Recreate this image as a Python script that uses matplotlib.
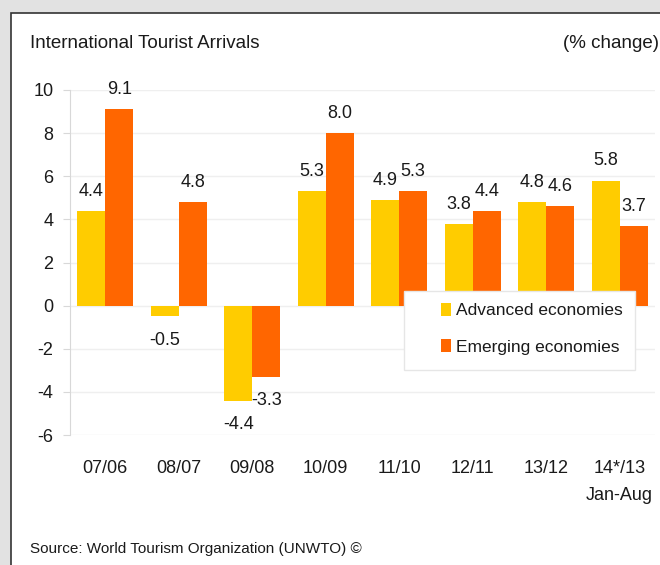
import numpy as np
import matplotlib
matplotlib.use("Agg")
import matplotlib.pyplot as plt
import matplotlib.patches as mpatches

# ── Data ───────────────────────────────────────────────────────────────────────

periods   = ["07/06", "08/07", "09/08", "10/09", "11/10", "12/11", "13/12", "14*/13"]
advanced  = [4.4, -0.5, -4.4, 5.3, 4.9, 3.8, 4.8, 5.8]
emerging  = [9.1, 4.8, -3.3, 8.0, 5.3, 4.4, 4.6, 3.7]
y_ticks   = [-6, -4, -2, 0, 2, 4, 6, 8, 10]

# ── Style ──────────────────────────────────────────────────────────────────────

YELLOW = "#FFCC00"
ORANGE = "#FF6600"
TEXT   = "#1a1a1a"
GRID   = "#efefef"

plt.rcParams["font.family"] = ["Liberation Sans Narrow", "Liberation Sans", "DejaVu Sans"]

W, H = 660, 565
fig = plt.figure(figsize=(W / 100, H / 100), dpi=100)
fig.patch.set_facecolor("#e2e2e2")

# white panel with dark border (cut off at right/bottom)
fig.patches.append(mpatches.Rectangle((11 / W, -0.01), 1, 1.01 - 13 / H, transform=fig.transFigure,
                                      facecolor="white", edgecolor="#333333", linewidth=1.2,
                                      zorder=-5))

ax = fig.add_axes([70 / W, 1 - 435 / H, 585 / W, 345 / H])
ax.set_facecolor("none")

x = np.arange(len(periods))
bw = 0.38
ax.bar(x - bw / 2, advanced, bw, color=YELLOW, label="Advanced economies", zorder=3)
ax.bar(x + bw / 2, emerging, bw, color=ORANGE, label="Emerging economies", zorder=3)

for xs, vals in [(x - bw / 2, advanced), (x + bw / 2, emerging)]:
    for xi, v in zip(xs, vals):
        if v >= 0:
            ax.annotate(f"{v:.1f}", xy=(xi, v), xytext=(0, 8), textcoords="offset points",
                        ha="center", va="bottom", fontsize=13, color=TEXT)
        else:
            ax.annotate(f"{v:.1f}", xy=(xi, v), xytext=(0, -11), textcoords="offset points",
                        ha="center", va="top", fontsize=13, color=TEXT)

ax.set_xlim(-0.48, 7.48)
ax.set_ylim(-6, 10)
ax.set_yticks(y_ticks)
ax.set_yticklabels([str(t) for t in y_ticks], fontsize=13, color=TEXT)
ax.set_xticks(x)
ax.set_xticklabels(periods, fontsize=13, color=TEXT)
ax.tick_params(axis="x", length=0, pad=18)
ax.tick_params(axis="y", length=5, color="#d8d8d8", pad=7)

ax.grid(axis="y", color=GRID, linewidth=1, zorder=0)
for s in ["top", "right", "bottom"]:
    ax.spines[s].set_visible(False)
ax.spines["left"].set_color("#d8d8d8")

ax.text(7.45, -8.8, "Jan-Aug", ha="right", va="center", fontsize=13, color=TEXT)

# legend box drawn separately so the entries can sit inset like the original
ax.add_patch(mpatches.Rectangle((404 / W, 1 - 370 / H), 231 / W, 79 / H,
                                transform=fig.transFigure, facecolor="white",
                                edgecolor="#e6e6e6", linewidth=1, zorder=4))
leg = ax.legend(loc="upper left", bbox_to_anchor=(441 / W, 1 - 303 / H),
                bbox_transform=fig.transFigure, fontsize=12.5, frameon=False,
                handlelength=0.6, handleheight=0.75, handletextpad=0.25,
                labelspacing=1.2, borderpad=0, borderaxespad=0)
leg.set_zorder(6)
for t in leg.get_texts():
    t.set_color(TEXT)

fig.text(30 / W, 1 - 43 / H, "International Tourist Arrivals", fontsize=13.5,
         color=TEXT, va="center", ha="left")
fig.text(659 / W, 1 - 43 / H, "(% change)", fontsize=13.5, color=TEXT, va="center", ha="right")
fig.text(30 / W, 1 - 549 / H, "Source: World Tourism Organization (UNWTO) ©", fontsize=11,
         color=TEXT, va="center", ha="left")

fig.savefig("out.png", dpi=100, facecolor=fig.get_facecolor())
